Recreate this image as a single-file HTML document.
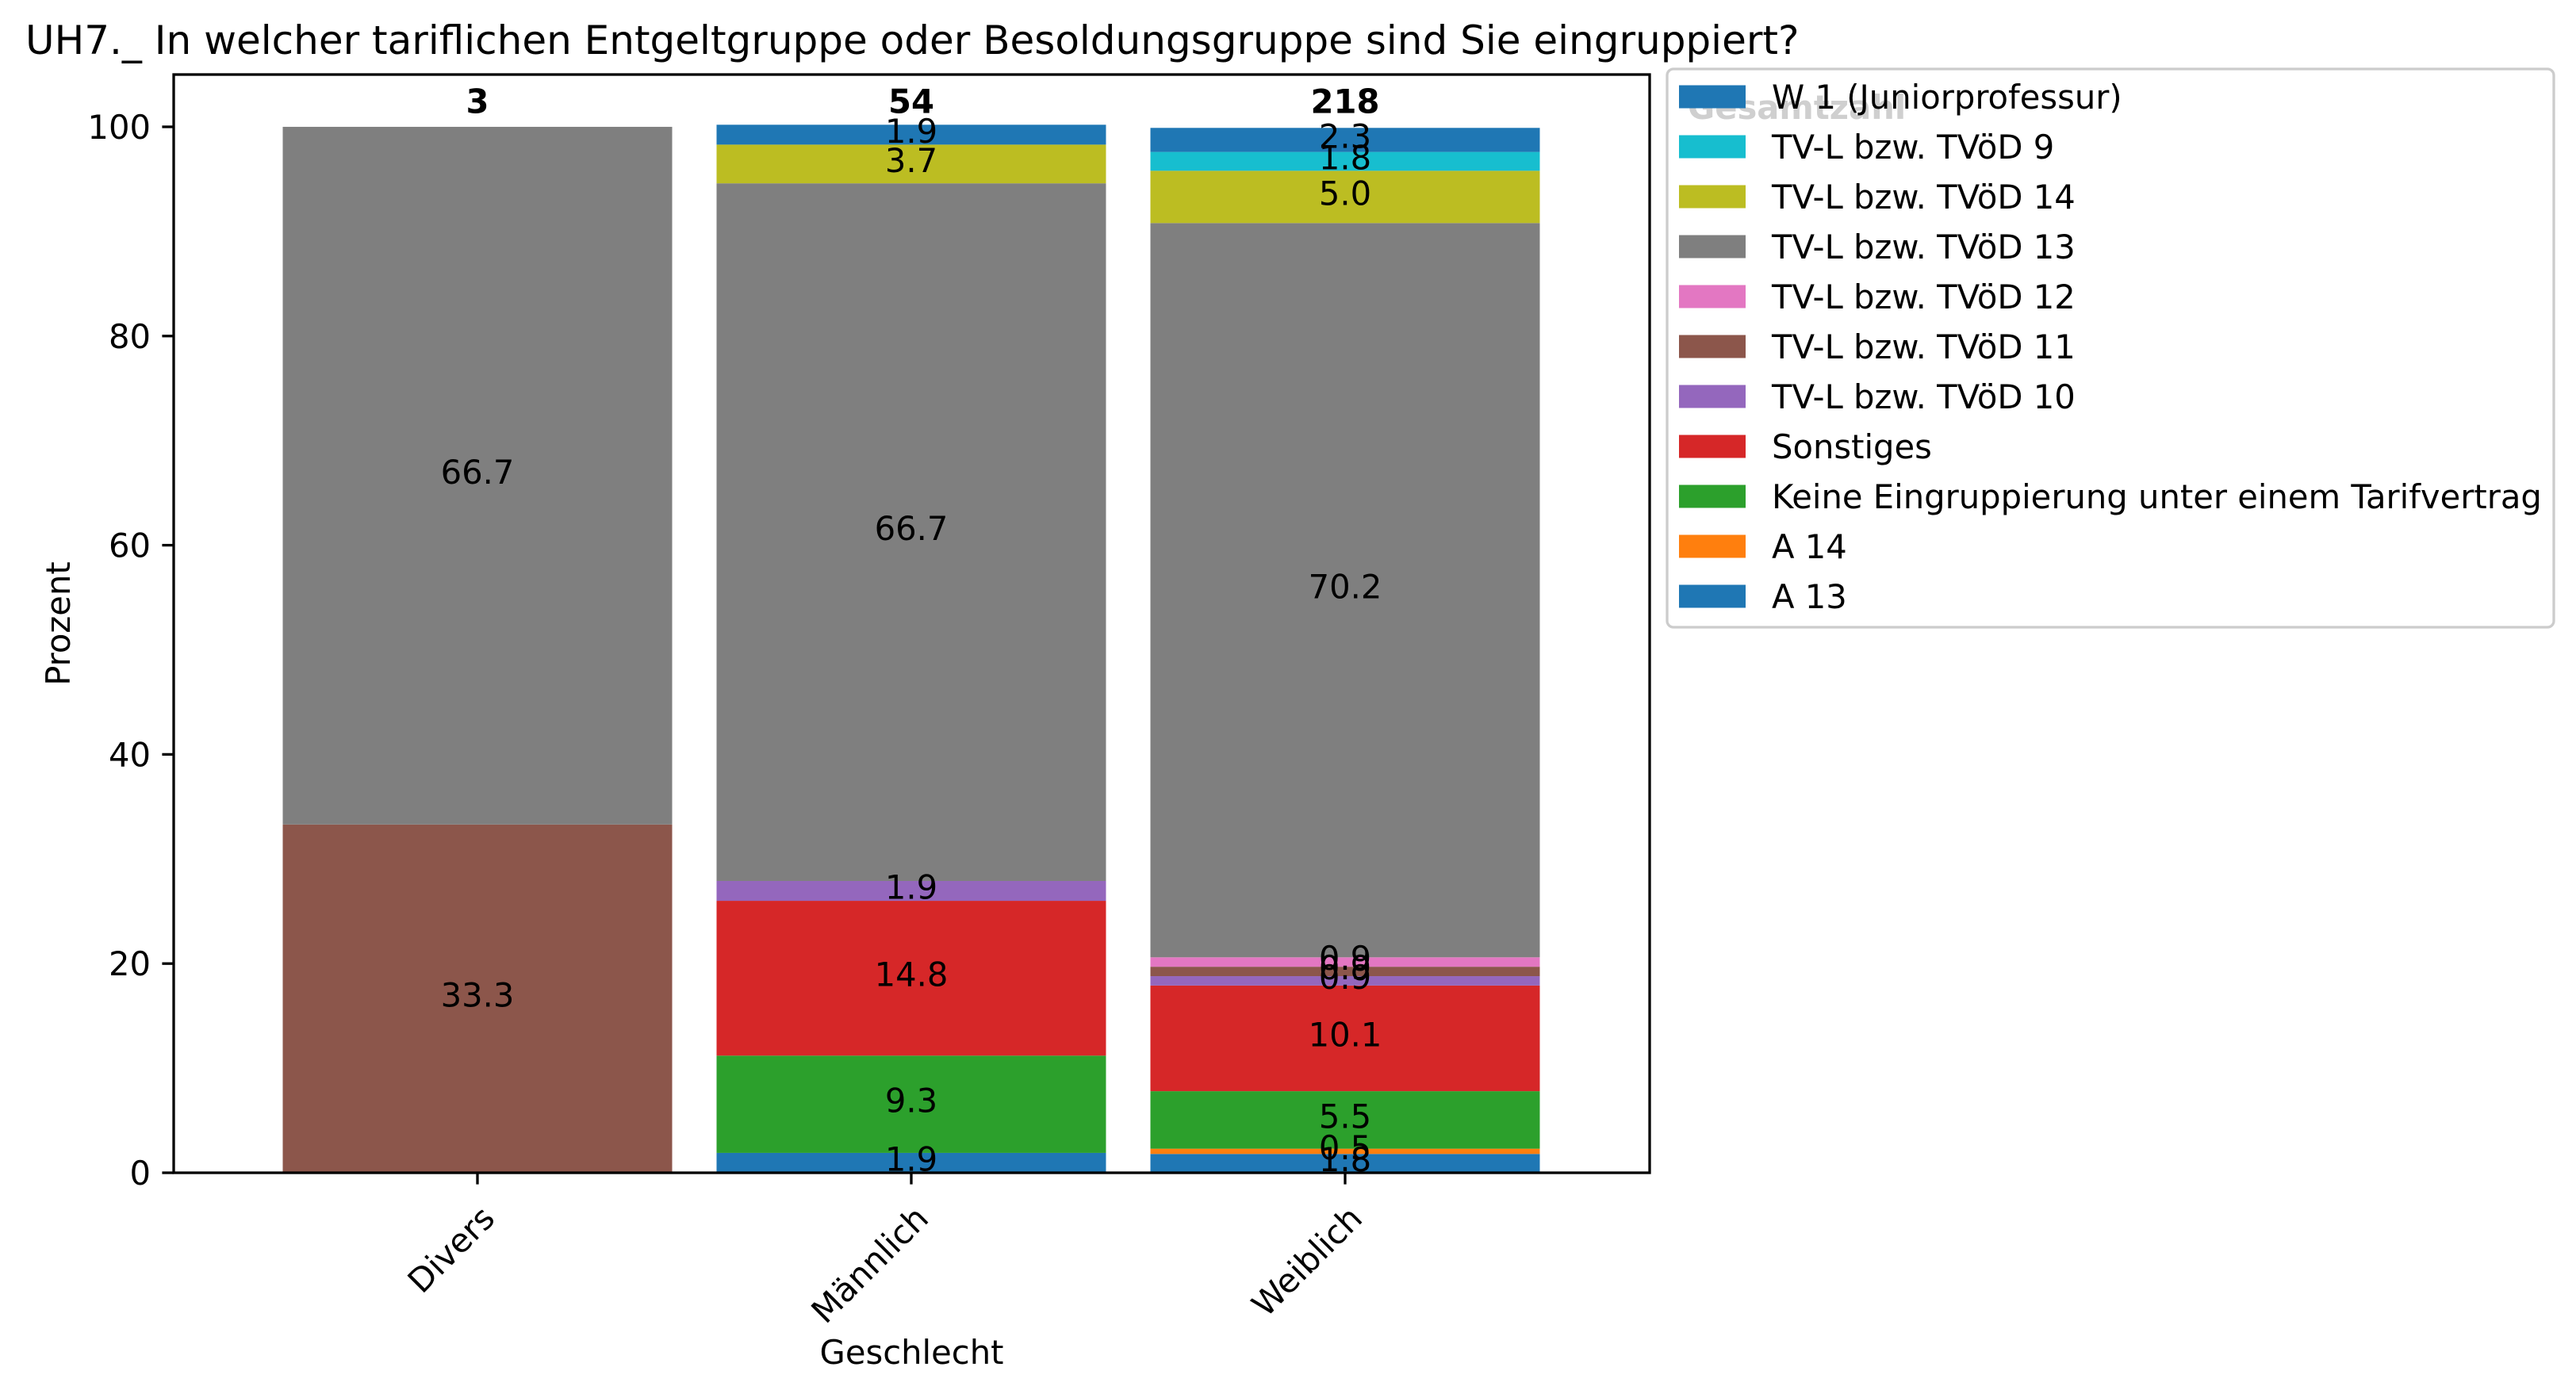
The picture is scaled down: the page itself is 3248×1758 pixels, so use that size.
<!DOCTYPE html>
<html><head><meta charset="utf-8"><style>
html,body{margin:0;padding:0;background:#fff;}
svg{display:block;font-family:"DejaVu Sans","Liberation Sans",sans-serif;}
</style></head><body>
<svg id="chart" width="3248" height="1758" viewBox="0 0 3248 1758" xmlns="http://www.w3.org/2000/svg">
<rect x="0" y="0" width="3248" height="1758" fill="#fff"/>
<text x="32" y="68" font-size="50">UH7._ In welcher tariflichen Entgeltgruppe oder Besoldungsgruppe sind Sie eingruppiert?</text>
<g id="bars"></g>
<g id="axes"></g>
<g id="legend"></g>
</svg>
<script>
const categories = ["Divers", "Männlich", "Weiblich"];
const totals = ["3", "54", "218"];
const seriesNames = ["A 13", "A 14", "Keine Eingruppierung unter einem Tarifvertrag", "Sonstiges", "TV-L bzw. TVöD 10", "TV-L bzw. TVöD 11", "TV-L bzw. TVöD 12", "TV-L bzw. TVöD 13", "TV-L bzw. TVöD 14", "TV-L bzw. TVöD 9", "W 1 (Juniorprofessur)"];
const seriesColors = ["#1f77b4", "#ff7f0e", "#2ca02c", "#d62728", "#9467bd", "#8c564b", "#e377c2", "#7f7f7f", "#bcbd22", "#17becf", "#1f77b4"];
const valA13 = [0, 1.9, 1.8];
const valA14 = [0, 0, 0.5];
const valKeine = [0, 9.3, 5.5];
const valSonstiges = [0, 14.8, 10.1];
const valTV10 = [0, 1.9, 0.9];
const valTV11 = [33.3, 0, 0.9];
const valTV12 = [0, 0, 0.9];
const valTV13 = [66.7, 66.7, 70.2];
const valTV14 = [0, 3.7, 5.0];
const valTV9 = [0, 0, 1.8];
const valW1 = [0, 1.9, 2.3];
const yTicks = [0, 20, 40, 60, 80, 100];

const series = [valA13, valA14, valKeine, valSonstiges, valTV10, valTV11, valTV12, valTV13, valTV14, valTV9, valW1];
const NS = "http://www.w3.org/2000/svg";
const L = 219, R = 2080, T = 94, B = 1479;
const yMax = 105;
function yS(v){ return B - v * (B - T) / yMax; }
const step = 547, x0 = 602, bw = 491;
function xS(i){ return x0 + i * step; }
function mk(tag, attrs, parent){ const e = document.createElementNS(NS, tag); for (const k in attrs) e.setAttribute(k, attrs[k]); parent.appendChild(e); return e; }

const gb = document.getElementById("bars");
const labels = [];
categories.forEach((c, i) => {
  let acc = 0;
  series.forEach((s, j) => {
    const v = s[i];
    if (v > 0) {
      const r = mk("rect", {x: xS(i) - bw/2, y: yS(acc + v), width: bw, height: yS(acc) - yS(acc + v), fill: seriesColors[j]}, gb);
      
      
      labels.push([xS(i), yS(acc + v/2), v.toFixed(1)]);
    }
    acc += v;
  });
});
labels.forEach(l => {
  const t = mk("text", {x: l[0], y: l[1] + 10, "font-size": 41.7, "text-anchor": "middle"}, gb);
  t.textContent = l[2];
  
  
});
categories.forEach((c, i) => {
  const t = mk("text", {x: xS(i), y: yS(102) + 9, "font-size": 41.7, "font-weight": "bold", "text-anchor": "middle"}, gb);
  t.textContent = totals[i];
  
  
});

const ga = document.getElementById("axes");
const frame = mk("rect", {x: L, y: T, width: R - L, height: B - T, fill: "none", stroke: "#000", "stroke-width": 3.3}, ga);


yTicks.forEach(v => {
  const ln = mk("line", {x1: L - 14.6, x2: L, y1: yS(v), y2: yS(v), stroke: "#000", "stroke-width": 3.3}, ga);
  
  
  const t = mk("text", {x: L - 29, y: yS(v) + 15, "font-size": 41.7, "text-anchor": "end"}, ga);
  t.textContent = String(v);
  
  
});
categories.forEach((c, i) => {
  const ln = mk("line", {x1: xS(i), x2: xS(i), y1: B, y2: B + 14.6, stroke: "#000", "stroke-width": 3.3}, ga);
  
  
  const ax = xS(i) + 24, ay = B + 60;
  const t = mk("text", {x: ax, y: ay, "font-size": 41.7, "text-anchor": "end", transform: `rotate(-45 ${ax} ${ay})`}, ga);
  t.textContent = c;
  
  
});
const yl = mk("text", {x: 88, y: (T + B) / 2, "font-size": 41.7, "text-anchor": "middle", transform: `rotate(-90 88 ${(T + B) / 2})`}, ga);
yl.textContent = "Prozent";


const xl = mk("text", {x: (L + R) / 2, y: 1720, "font-size": 41.7, "text-anchor": "middle"}, ga);
xl.textContent = "Geschlecht";



const gl = document.getElementById("legend");
const box = mk("rect", {x: 2102, y: 87, width: 1118, height: 704, rx: 8, fill: "#fff", stroke: "#ccc", "stroke-width": 3.3}, gl);


const lt = mk("text", {x: 2128, y: 150, "font-size": 41.7, "font-weight": "bold", fill: "#cfcfcf"}, gl);
lt.textContent = "Gesamtzahl";


for (let k = 0; k < seriesNames.length; k++) {
  const j = seriesNames.length - 1 - k;
  const cy = 122 + 63 * k;
  const p = mk("rect", {x: 2117, y: cy - 14.5, width: 84, height: 29, fill: seriesColors[j]}, gl);
  
  
  const t = mk("text", {x: 2234, y: cy + 15, "font-size": 41.7}, gl);
  t.textContent = seriesNames[j];
  
  
}
</script>
</body></html>
